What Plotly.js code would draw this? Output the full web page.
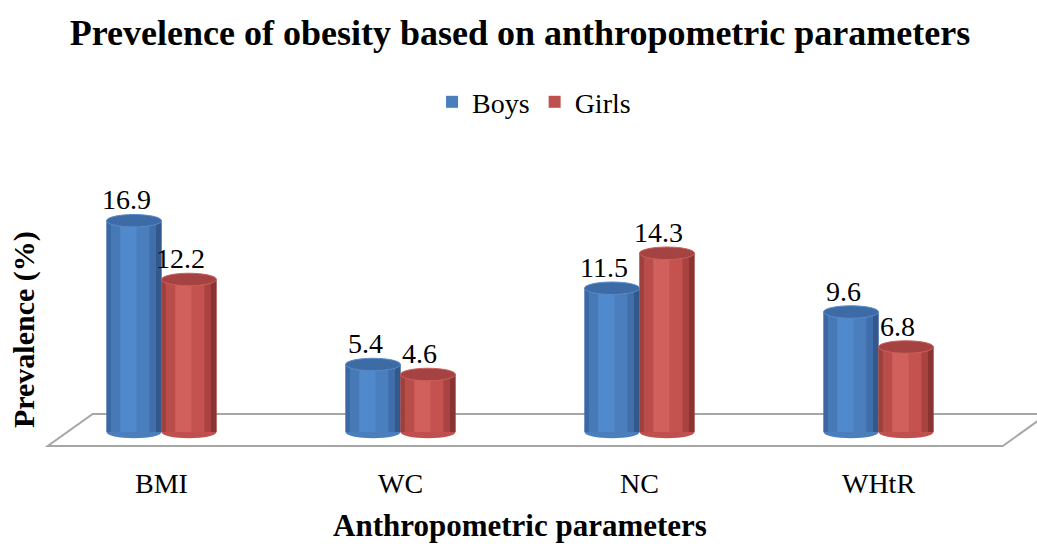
<!DOCTYPE html>
<html>
<head>
<meta charset="utf-8">
<script src="https://cdn.plot.ly/plotly-3.0.1.min.js"></script>
<style>
html,body{margin:0;padding:0;background:#fff;}
#chart{width:1037px;height:546px;}
.main-svg text{font-family:'Liberation Serif','Times New Roman','DejaVu Serif',serif !important;}
</style>
</head>
<body>
<div id="chart"></div>
<script>
// ---- data ----
const categories = ['BMI', 'WC', 'NC', 'WHtR'];
const boys = [16.9, 5.4, 11.5, 9.6];
const girls = [12.2, 4.6, 14.3, 6.8];
const seriesNames = ['Boys', 'Girls'];

// ---- styling ----
const FONT = 'Liberation Serif, Times New Roman, serif';
const BW = 0.23; // bar width in category units
const palettes = {
  Boys:  {base: '#4A7EBD', strips: ['#3B68A3', '#4779B7', '#5089CC', '#4A7EBD', '#3F6EAA', '#33598C'], top: '#3D6BA6', line: '#5A8ACB'},
  Girls: {base: '#C0504D', strips: ['#9E403E', '#B94D4A', '#D15F5C', '#C4524F', '#A94341', '#873432'], top: '#A44341', line: '#CC5E5B'}
};
const stripEdges = [0, 0.08, 0.25, 0.55, 0.78, 0.9, 1];

const xIdx = categories.map((c, i) => i);
const traces = [];
const shapes = [];
const annotations = [];

// floor (3D plane) in paper-x / data-y
shapes.push({
  type: 'path', xref: 'paper', yref: 'y', layer: 'below',
  path: 'M 0.053 1.45 L 1.052 1.45 L 1.005 -1.12 L 0.006 -1.12 Z',
  fillcolor: '#FFFFFF', line: {color: '#A6A6A6', width: 2}
});

[boys, girls].forEach((vals, s) => {
  const name = seriesNames[s];
  const pal = palettes[name];
  const off = s === 0 ? -BW : 0;
  // main bar (legend entry)
  traces.push({
    type: 'bar', name: name, x: xIdx, y: vals,
    width: BW, offset: off,
    marker: {color: pal.base, line: {width: 0}},
    hoverinfo: 'x+y', showlegend: true
  });
  // shading strips for the cylinder look
  for (let k = 0; k < stripEdges.length - 1; k++) {
    traces.push({
      type: 'bar', name: name, x: xIdx, y: vals,
      width: (stripEdges[k + 1] - stripEdges[k]) * BW,
      offset: off + stripEdges[k] * BW,
      marker: {color: pal.strips[k], line: {width: 0}},
      hoverinfo: 'skip', showlegend: false
    });
  }
  vals.forEach((v, i) => {
    // bottom ellipse
    shapes.push({type: 'circle', xref: 'x', yref: 'y', layer: 'below',
      x0: i + off, x1: i + off + BW, y0: -0.5, y1: 0.5,
      fillcolor: pal.base, line: {width: 0}});
    // top ellipse
    shapes.push({type: 'circle', xref: 'x', yref: 'y', layer: 'above',
      x0: i + off, x1: i + off + BW, y0: v - 0.5, y1: v + 0.5,
      fillcolor: pal.top, line: {color: pal.line, width: 1}});
    // value label
    annotations.push({x: i + off + BW / 2, y: v, xref: 'x', yref: 'y',
      text: v.toFixed(1), showarrow: false, yshift: 21, xshift: -8,
      font: {family: FONT, size: 28}});
  });
});

// y-axis title as a rotated annotation
annotations.push({
  text: '<b>Prevalence (%)</b>', xref: 'paper', yref: 'paper',
  x: -0.0188, y: 0.448, xanchor: 'center', yanchor: 'middle', textangle: -90,
  showarrow: false, font: {family: FONT, size: 30}
});

const layout = {
  width: 1037, height: 546,
  paper_bgcolor: '#FFFFFF', plot_bgcolor: 'rgba(0,0,0,0)',
  margin: {l: 42, r: 39, t: 170, b: 86},
  barmode: 'overlay',
  font: {family: FONT, size: 28, color: '#000000'},
  title: {text: '<b>Prevelence of obesity based on anthropometric parameters</b>',
    font: {family: FONT, size: 36},
    x: 0.5, xanchor: 'center', xref: 'paper', y: 0.94, yanchor: 'middle', yref: 'container'},
  legend: {orientation: 'h', xref: 'container', yref: 'container', x: 0.515, xanchor: 'center',
    y: 0.813, yanchor: 'middle', font: {family: FONT, size: 28},
    traceorder: 'normal'},
  xaxis: {
    type: 'linear', range: [-0.5, 3.5],
    tickmode: 'array', tickvals: xIdx, ticktext: categories,
    showgrid: false, zeroline: false, showline: false, ticks: '',
    tickfont: {family: FONT, size: 28},
    ticklabelstandoff: 4,
    title: {text: '<b>Anthropometric parameters</b>', font: {family: FONT, size: 31}, standoff: 16},
    automargin: false
  },
  yaxis: {
    range: [-2.24, 20.96], showgrid: false, zeroline: false, showline: false,
    showticklabels: false, ticks: '', automargin: false
  },
  shapes: shapes,
  annotations: annotations,
  showlegend: true
};

Plotly.newPlot('chart', traces, layout, {staticPlot: true});
</script>
</body>
</html>
